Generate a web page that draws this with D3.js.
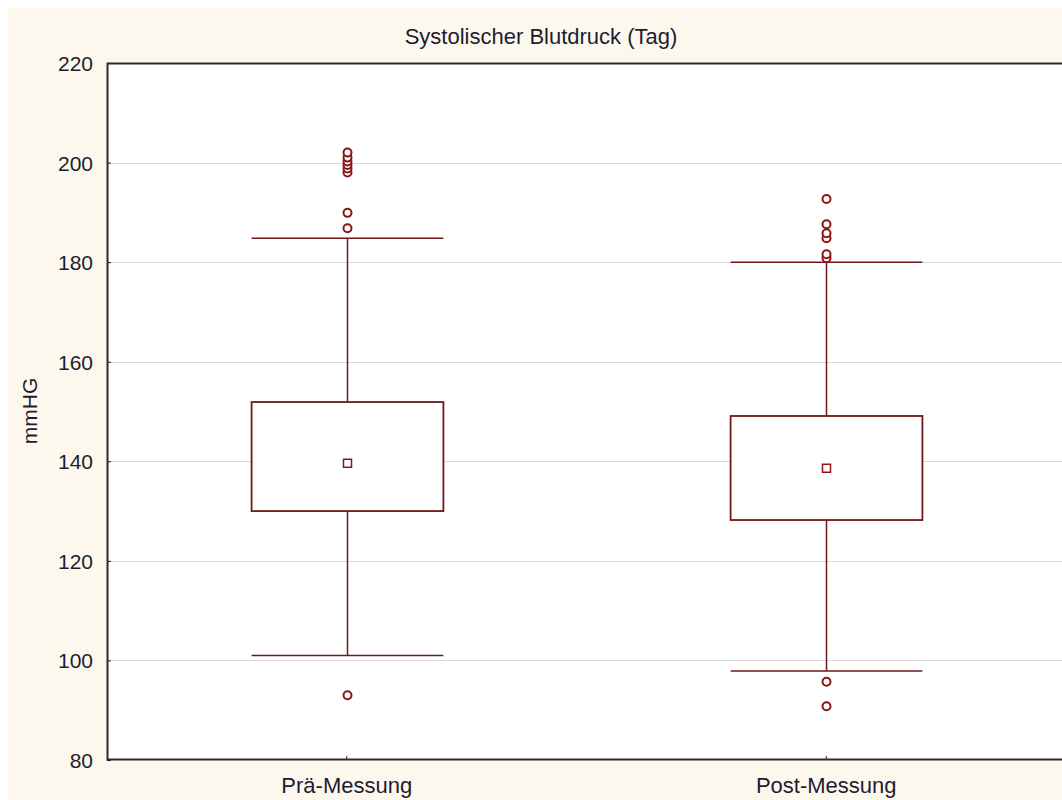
<!DOCTYPE html>
<html>
<head>
<meta charset="utf-8">
<script src="https://cdn.jsdelivr.net/npm/d3@7"></script>
<style>
  html, body { margin: 0; padding: 0; background: #ffffff; }
  svg { display: block; font-family: "Liberation Sans", Arial, sans-serif; }
</style>
</head>
<body>
<svg id="chart" width="1062" height="800"></svg>
<script>
// Box plot data: systolic blood pressure (day), pre vs. post measurement
const categories = ["Prä-Messung", "Post-Messung"];
const means      = [139.6, 138.6];
const q1         = [130.0, 128.2];
const q3         = [151.9, 149.1];
const whiskerLow = [101.0, 97.9];
const whiskerHigh= [184.8, 180.0];
const outliersPre  = [93.0, 186.8, 189.9, 198.0, 198.8, 199.5, 200.2, 201.0, 202.0];
const outliersPost = [90.8, 95.7, 180.8, 181.6, 184.8, 185.8, 187.6, 192.7];
const yTicks = [80, 100, 120, 140, 160, 180, 200, 220];

const title = "Systolischer Blutdruck (Tag)";
const yLabel = "mmHG";

const svg = d3.select("#chart");
const W = 1062, H = 800;
const plot = { left: 107, top: 63, right: 1066, bottom: 760 };
const boxColor = "#6e1a1a";
const pointColor = "#8e1414";
const textColor = "#1d1d2f";
const fontFamily = "'Liberation Sans', Arial, sans-serif";

// cream background panel
svg.append("rect").attr("x", 8).attr("y", 8).attr("width", W - 8).attr("height", H - 8)
  .attr("fill", "#fdf8ee");

const x = d3.scaleBand().domain(categories).range([plot.left, plot.right]).paddingInner(0).paddingOuter(0);
const y = d3.scaleLinear().domain([80, 220]).range([plot.bottom, plot.top]);

// plot area
svg.append("rect").attr("x", plot.left).attr("y", plot.top)
  .attr("width", plot.right - plot.left).attr("height", plot.bottom - plot.top)
  .attr("fill", "#ffffff");

// horizontal grid
svg.append("g").selectAll("line").data(yTicks.slice(1, -1)).join("line")
  .attr("x1", plot.left).attr("x2", plot.right)
  .attr("y1", d => Math.round(y(d)) + 0.5).attr("y2", d => Math.round(y(d)) + 0.5)
  .attr("stroke", "#d9d9d9").attr("stroke-width", 1);

// axes with small inward ticks
const yAxis = d3.axisLeft(y).tickValues(yTicks).tickSize(-4).tickPadding(14);
const gy = svg.append("g").attr("transform", `translate(${plot.left},0)`).call(yAxis);
gy.select(".domain").remove();
gy.selectAll("line").attr("stroke", "#222");
gy.selectAll("text").attr("font-size", 21).attr("fill", textColor)
  .attr("font-family", fontFamily).attr("dy", "0.36em");

const xAxis = d3.axisBottom(x).tickSize(-4).tickPadding(17);
const gx = svg.append("g").attr("transform", `translate(0,${plot.bottom})`).call(xAxis);
gx.select(".domain").remove();
gx.selectAll("line").attr("stroke", "#222");
gx.selectAll("text").attr("font-size", 22).attr("fill", textColor)
  .attr("font-family", fontFamily);

// frame
svg.append("rect").attr("x", plot.left + 0.5).attr("y", plot.top + 0.5)
  .attr("width", plot.right - plot.left).attr("height", plot.bottom - plot.top - 1)
  .attr("fill", "none").attr("stroke", "#2a2a2a").attr("stroke-width", 2);

// boxes
const boxW = x.bandwidth() * 0.4;
const capW = x.bandwidth() * 0.2;
const rows = categories.map((c, i) => ({
  c, mean: means[i], q1: q1[i], q3: q3[i], lo: whiskerLow[i], hi: whiskerHigh[i],
  out: i === 0 ? outliersPre : outliersPost
}));

const g = svg.append("g").selectAll("g").data(rows).join("g")
  .attr("transform", d => `translate(${Math.round(x(d.c) + x.bandwidth() / 2) + 0.5},0)`);

// whiskers
g.append("line").attr("x1", 0).attr("x2", 0)
  .attr("y1", d => y(d.hi)).attr("y2", d => y(d.q3))
  .attr("stroke", boxColor).attr("stroke-width", 1.5);
g.append("line").attr("x1", 0).attr("x2", 0)
  .attr("y1", d => y(d.q1)).attr("y2", d => y(d.lo))
  .attr("stroke", boxColor).attr("stroke-width", 1.5);
g.append("line").attr("x1", -capW).attr("x2", capW)
  .attr("y1", d => y(d.hi)).attr("y2", d => y(d.hi))
  .attr("stroke", boxColor).attr("stroke-width", 1.5);
g.append("line").attr("x1", -capW).attr("x2", capW)
  .attr("y1", d => y(d.lo)).attr("y2", d => y(d.lo))
  .attr("stroke", boxColor).attr("stroke-width", 1.5);

// box
g.append("rect").attr("x", -boxW / 2).attr("width", boxW)
  .attr("y", d => y(d.q3)).attr("height", d => y(d.q1) - y(d.q3))
  .attr("fill", "#ffffff").attr("stroke", boxColor).attr("stroke-width", 1.8);

// mean marker
g.append("rect").attr("x", -4).attr("width", 8)
  .attr("y", d => y(d.mean) - 4).attr("height", 8)
  .attr("fill", "#ffffff").attr("stroke", pointColor).attr("stroke-width", 1.5);

// outliers
g.selectAll("circle").data(d => d.out).join("circle")
  .attr("cx", 0).attr("cy", d => y(d)).attr("r", 4)
  .attr("fill", "#ffffff").attr("stroke", pointColor).attr("stroke-width", 2);

// title and y label
svg.append("text").attr("x", 541).attr("y", 44).attr("text-anchor", "middle")
  .attr("font-size", 22).attr("font-family", fontFamily).attr("fill", textColor).text(title);
svg.append("text").attr("transform", "translate(37,411) rotate(-90)")
  .attr("text-anchor", "middle").attr("font-size", 21).attr("font-family", fontFamily)
  .attr("fill", textColor).text(yLabel);
</script>
</body>
</html>
